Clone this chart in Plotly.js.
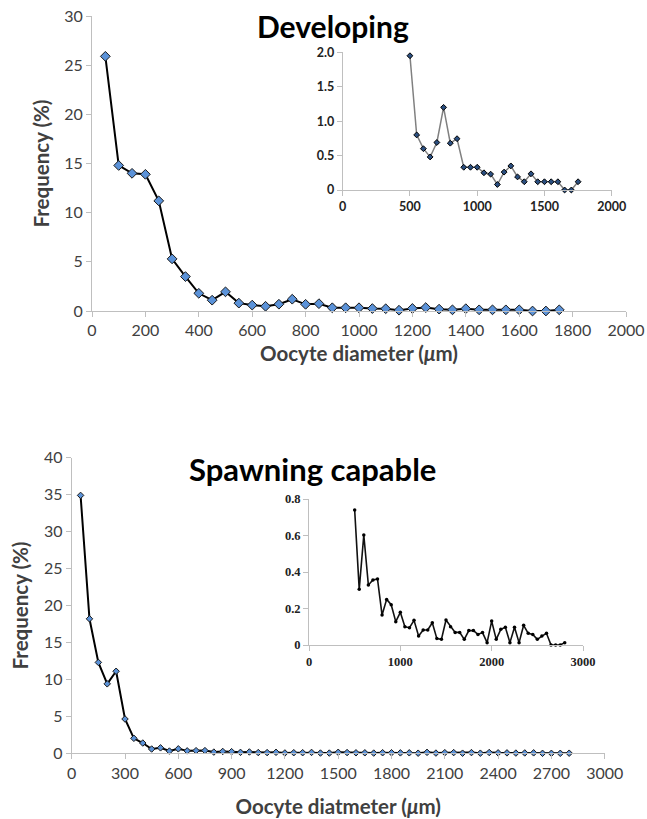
<!DOCTYPE html>
<html>
<head>
<meta charset="utf-8">
<script src="https://cdn.plot.ly/plotly-3.0.1.min.js"></script>
<style>
html,body{margin:0;padding:0;background:#fff;}
#chart{width:647px;height:819px;}
</style>
</head>
<body>
<div id="chart"></div>
<script>
// Developing: oocyte diameter (µm) and frequency (%)
var devX = [50,100,150,200,250,300,350,400,450,500,550,600,650,700,750,800,850,900,950,1000,
            1050,1100,1150,1200,1250,1300,1350,1400,1450,1500,1550,1600,1650,1700,1750];
var devY = [25.9,14.8,14.0,13.9,11.2,5.3,3.5,1.8,1.1,1.95,0.80,0.60,0.48,0.69,1.20,0.68,0.745,0.33,0.33,0.33,
            0.25,0.23,0.08,0.26,0.35,0.19,0.12,0.235,0.12,0.12,0.12,0.12,0,0,0.12];
var devInsetStart = 9; // inset shows values from 500 µm

// Spawning capable
var spawnX = [50,100,150,200,250,300,350,400,450,500,550,600,650,700,750,800,850,900,950,1000,
              1050,1100,1150,1200,1250,1300,1350,1400,1450,1500,1550,1600,1650,1700,1750,1800,1850,1900,1950,2000,
              2050,2100,2150,2200,2250,2300,2350,2400,2450,2500,2550,2600,2650,2700,2750,2800];
var spawnY = [34.9,18.2,12.3,9.4,11.1,4.64,2.03,1.39,0.58,
              0.74,0.305,0.603,0.329,0.356,0.362,0.164,0.250,0.221,0.128,0.179,0.100,0.095,0.135,0.049,0.082,
              0.082,0.122,0.035,0.031,0.137,0.100,0.069,0.069,0.031,0.079,0.079,0.058,0.068,0.013,0.131,
              0.031,0.086,0.097,0.013,0.097,0.013,0.108,0.064,0.058,0.031,0.049,0.064,0,0,0,0.013];
var spawnInsetStart = 9;

// tick labels
var devInsetTickVals = [0,0.5,1.0,1.5,2.0];
var devInsetTickText = ['0','0.5','1.0','1.5','2.0'];
var spawnInsetTickVals = [0,0.2,0.4,0.6,0.8];
var spawnInsetTickText = ['0','0.2','0.4','0.6','0.8'];

var titles = ['Developing','Spawning capable'];
var yTitle = 'Frequency (%)';
var xTitleDev = 'Oocyte diameter (<i>\u03bc</i>m)';
var xTitleSpawn = 'Oocyte diatmeter (<i>\u03bc</i>m)';

var W = 647, H = 819;
function px(a,b){return [a/W, b/W];}
function py(top,bottom){return [1-bottom/H, 1-top/H];}

var FONT = 'Lato, "Liberation Sans", sans-serif';
var axisBase = {
  showline:true, linecolor:'#bfbfbf', linewidth:1,
  ticks:'outside', ticklen:5, tickcolor:'#bfbfbf', tickwidth:1,
  showgrid:false, zeroline:false, fixedrange:true
};
function ax(extra){return Object.assign({}, axisBase, extra);}

var mainTick = {family:FONT, size:16, color:'#404040'};
var titleFont = {family:FONT, size:20.5, color:'#404040', weight:'bold'};
var serifTick = {family:'"Liberation Serif", serif', size:12.5, color:'#222', weight:'bold'};
var insetTick = {family:FONT, size:12.5, color:'#222', weight:'bold'};

var traces = [
  {x:devX, y:devY, xaxis:'x', yaxis:'y', mode:'lines+markers', cliponaxis:false,
   line:{color:'#000', width:2},
   marker:{symbol:'diamond', size:7.5, color:'#5b92d8', line:{color:'#1a1a1a', width:1}}},
  {x:devX.slice(devInsetStart), y:devY.slice(devInsetStart), xaxis:'x2', yaxis:'y2', mode:'lines+markers', cliponaxis:false,
   line:{color:'#808080', width:1.5},
   marker:{symbol:'diamond', size:4.5, color:'#2b4f80', line:{color:'#000', width:1}}},
  {x:spawnX, y:spawnY, xaxis:'x3', yaxis:'y3', mode:'lines+markers', cliponaxis:false,
   line:{color:'#000', width:2},
   marker:{symbol:'diamond', size:5, color:'#5b92d8', line:{color:'#1a1a1a', width:1}}},
  {x:spawnX.slice(spawnInsetStart), y:spawnY.slice(spawnInsetStart), xaxis:'x4', yaxis:'y4', mode:'lines+markers', cliponaxis:false,
   line:{color:'#111', width:1.6},
   marker:{symbol:'circle', size:3.5, color:'#000'}}
];

var layout = {
  width:W, height:H, margin:{l:0,r:0,t:0,b:0},
  paper_bgcolor:'#fff', plot_bgcolor:'rgba(0,0,0,0)',
  showlegend:false,
  xaxis: ax({domain:px(92,626), range:[0,2000], dtick:200, anchor:'y', tickfont:mainTick,
             title:{text:xTitleDev, font:titleFont, standoff:8}}),
  yaxis: ax({domain:py(16,311), range:[0,30], dtick:5, anchor:'x', tickfont:mainTick,
             title:{text:yTitle, font:titleFont, standoff:9}}),
  xaxis2: ax({domain:px(342.7,611.7), range:[0,2000], dtick:500, anchor:'y2', tickfont:insetTick}),
  yaxis2: ax({domain:py(52.3,190), range:[0,2], anchor:'x2', tickvals:devInsetTickVals, ticktext:devInsetTickText,
              tickfont:insetTick}),
  xaxis3: ax({domain:px(71.7,604.7), range:[0,3000], dtick:300, anchor:'y3', tickfont:mainTick,
              title:{text:xTitleSpawn, font:titleFont, standoff:19}}),
  yaxis3: ax({domain:py(457.7,753.3), range:[0,40], dtick:5, anchor:'x3', tickfont:mainTick,
              title:{text:yTitle, font:titleFont, standoff:9}}),
  xaxis4: ax({domain:px(309,583), range:[0,3000], dtick:1000, anchor:'y4', tickfont:serifTick}),
  yaxis4: ax({domain:py(499,645), range:[0,0.8], anchor:'x4', tickvals:spawnInsetTickVals, ticktext:spawnInsetTickText,
              tickfont:serifTick}),
  annotations:[
    {text:titles[0], xref:'paper', yref:'paper', x:333/W, y:1-26/H, xanchor:'center', yanchor:'middle',
     showarrow:false, font:{family:FONT, size:30, color:'#000', weight:'bold'}},
    {text:titles[1], xref:'paper', yref:'paper', x:312/W, y:1-469.5/H, xanchor:'center', yanchor:'middle',
     showarrow:false, font:{family:FONT, size:31, color:'#000', weight:'bold'}}
  ]
};

Plotly.newPlot('chart', traces, layout, {displayModeBar:false, staticPlot:true});
</script>
</body>
</html>
